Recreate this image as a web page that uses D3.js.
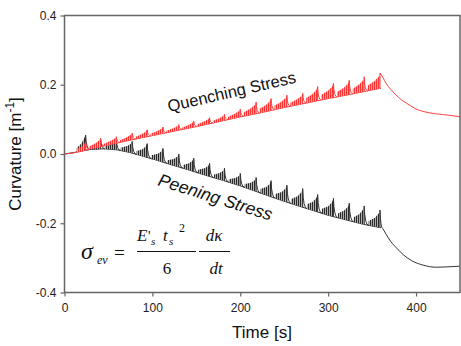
<!DOCTYPE html>
<html><head><meta charset="utf-8">
<script src="https://cdn.jsdelivr.net/npm/d3@7"></script>
<style>body{margin:0;background:#fff}svg{display:block}</style>
</head><body>
<svg id="c" width="461" height="346"></svg>
<script>
// ---------- data ----------
const xTicks = [0, 100, 200, 300, 400];
const yTicks = [-0.4, -0.2, 0.0, 0.2, 0.4];
const yTickLabels = ["-0.4", "-0.2", "0.0", "0.2", "0.4"];

// times of the cycle peaks (s)
const peakTimes = [24, 41, 59, 77, 94, 112, 130, 147, 165, 182, 200, 218, 235, 253, 271, 288, 306, 324, 341, 359];

// Peening (black): lower envelope, peak values, tail after 360 s
const blackBaseT = [0, 10, 20, 30, 45, 60, 75, 90, 105, 120, 140, 160, 180, 200, 220, 240, 260, 280, 300, 320, 340, 360];
const blackBaseV = [0, 0.004, 0.009, 0.013, 0.015, 0.012, 0.004, -0.007, -0.018, -0.03, -0.045, -0.061, -0.076, -0.092, -0.11, -0.128, -0.145, -0.161, -0.177, -0.19, -0.203, -0.213];
const blackPeaks = [0.055, 0.045, 0.04, 0.036, 0.03, 0.016, 0.0, -0.012, -0.027, -0.041, -0.056, -0.068, -0.077, -0.09, -0.1, -0.117, -0.128, -0.142, -0.15, -0.162];
const blackTailT = [362, 366, 371, 378, 386, 395, 408, 423, 435, 450];
const blackTailV = [-0.215, -0.232, -0.252, -0.272, -0.292, -0.308, -0.321, -0.327, -0.326, -0.324];

// Quenching (red)
const redBaseT = [0, 10, 20, 30, 50, 75, 100, 125, 150, 175, 200, 225, 250, 275, 300, 325, 350, 360];
const redBaseV = [0, 0.003, 0.008, 0.015, 0.026, 0.04, 0.053, 0.066, 0.079, 0.093, 0.107, 0.12, 0.134, 0.147, 0.16, 0.172, 0.185, 0.19];
const redPeaks = [0.035, 0.045, 0.05, 0.06, 0.07, 0.078, 0.085, 0.095, 0.105, 0.115, 0.13, 0.15, 0.16, 0.17, 0.175, 0.195, 0.205, 0.213, 0.223, 0.234];
const redTailT = [359, 362, 366, 371, 377, 383, 389, 400, 415, 430, 450];
const redTailV = [0.234, 0.222, 0.204, 0.187, 0.171, 0.157, 0.147, 0.13, 0.119, 0.114, 0.108];

// ---------- drawing ----------
const svg = d3.select("#c");
const L = 64.5, R = 460, T = 15.5, B = 292.5;
const x = d3.scaleLinear().domain([0, 450]).range([L, R]);
const y = d3.scaleLinear().domain([-0.4, 0.4]).range([B, T]);

const defs = svg.append("defs");
defs.append("clipPath").attr("id", "clip").append("rect")
  .attr("x", L).attr("y", T).attr("width", R - L).attr("height", B - T);
function pattern(id, bg, color, w) {
  const p = defs.append("pattern").attr("id", id).attr("patternUnits", "userSpaceOnUse")
    .attr("width", w).attr("height", 6);
  p.append("rect").attr("x", 0).attr("y", 0).attr("width", w).attr("height", 6).attr("fill", bg);
  p.append("rect").attr("x", 0).attr("y", 0).attr("width", 1).attr("height", 6).attr("fill", color);
}
pattern("hatchK", "#b0b0b0", "#2a2a2a", 2);
pattern("hatchR", "#ffa0a0", "#ff3535", 2);

const line = d3.line().x(d => x(d[0])).y(d => y(d[1]));
const smooth = d3.line().x(d => x(d[0])).y(d => y(d[1])).curve(d3.curveMonotoneX);

function drawSeries(baseT, baseV, peaks, tailT, tailV, color, patId, decay, tailFromPeak, shape) {
  const base = d3.scaleLinear().domain(baseT).range(baseV);
  const g = svg.append("g").attr("clip-path", "url(#clip)");
  // lower envelope
  g.append("path").datum(baseT.map((t, i) => [t, baseV[i]])).attr("d", line)
    .attr("fill", "none").attr("stroke", color).attr("stroke-width", 1);
  peakTimes.forEach((tp, i) => {
    const s = i === 0 ? tp - 10 : peakTimes[i - 1] + decay;
    const bs = base(s), be = base(tp), h = peaks[i] - be;
    const tm = s + 0.55 * (tp - s);
    const poly = [[s, bs], [tp, be], [tp, peaks[i]], [tp - 1.5, be + shape[2] * h],
      [tm, base(tm) + shape[1] * h], [s, bs + shape[0] * h]];
    g.append("path").attr("d", line(poly) + "Z").attr("fill", `url(#${patId})`);
    g.append("path").attr("d", line([[tp, be], [tp, peaks[i]]]))
      .attr("stroke", color).attr("stroke-width", 1);
    const last = i === peakTimes.length - 1;
    if (!last || !tailFromPeak) {
      const te = last ? tailT[0] : tp + decay;
      const ve = last ? tailV[0] : base(te);
      const p = d3.path();
      p.moveTo(x(tp), y(peaks[i]));
      p.quadraticCurveTo(x(tp + decay * 0.15), y(ve), x(te), y(ve));
      g.append("path").attr("d", p.toString()).attr("fill", "none")
        .attr("stroke", color).attr("stroke-width", 1);
    }
  });
  g.append("path").datum(tailT.map((t, i) => [t, tailV[i]])).attr("d", smooth)
    .attr("fill", "none").attr("stroke", color).attr("stroke-width", 1);
}

drawSeries(blackBaseT, blackBaseV, blackPeaks, blackTailT, blackTailV, "#333", "hatchK", 5, false, [0.25, 0.5, 0.8]);
drawSeries(redBaseT, redBaseV, redPeaks, redTailT, redTailV, "#ff4040", "hatchR", 4, true, [0.35, 0.55, 0.75]);

// ---------- axes ----------
const axCol = "#666";
const sans = "'Liberation Sans', Arial, sans-serif";
const xAxis = svg.append("g").attr("transform", `translate(0,${B})`)
  .call(d3.axisBottom(x).tickValues(xTicks).tickSize(4).tickPadding(7).tickFormat(d3.format("d")));
const yAxis = svg.append("g").attr("transform", `translate(${L},0)`)
  .call(d3.axisLeft(y).tickValues(yTicks).tickSize(4).tickPadding(4)
    .tickFormat((d, i) => yTickLabels[i]));
[xAxis, yAxis].forEach(a => {
  a.select(".domain").remove();
  a.selectAll(".tick line").attr("stroke", axCol).attr("stroke-width", 1.2);
  a.selectAll(".tick text").attr("fill", "#222").style("font-family", sans).style("font-size", "12px");
});
// frame
svg.append("rect").attr("x", L).attr("y", T).attr("width", R - L).attr("height", B - T)
  .attr("fill", "none").attr("stroke", axCol).attr("stroke-width", 1.5);

// titles
svg.append("text").attr("x", 262).attr("y", 338).attr("text-anchor", "middle")
  .style("font-family", sans).style("font-size", "17px").attr("fill", "#111").text("Time [s]");
const yl = svg.append("text").attr("transform", "translate(21,154) rotate(-90)")
  .attr("text-anchor", "middle").style("font-family", sans).style("font-size", "17px").attr("fill", "#111");
yl.append("tspan").text("Curvature [m");
yl.append("tspan").attr("dy", -7).style("font-size", "12px").text("-1");
yl.append("tspan").attr("dy", 7).text("]");

// annotations
svg.append("text").attr("transform", "translate(169,112) rotate(-13)")
  .style("font-family", sans).style("font-size", "16.5px").attr("fill", "#111").text("Quenching Stress");
svg.append("text").attr("transform", "translate(157,185) rotate(17.5)")
  .style("font-family", sans).style("font-size", "17.5px").style("font-style", "italic").attr("fill", "#111").text("Peening Stress");

// formula
const serif = "'Liberation Serif', 'Times New Roman', serif";
const f = svg.append("g").style("font-family", serif).attr("fill", "#111");
function ft(xp, yp, txt, size, italic, anchor) {
  f.append("text").attr("x", xp).attr("y", yp).text(txt)
    .style("font-size", size + "px").style("font-style", italic ? "italic" : "normal")
    .attr("text-anchor", anchor || "start");
}
ft(81, 259, "σ", 24, true);
ft(97, 264, "ev", 12, true);
ft(114, 259, "=", 19, false);
ft(137, 241, "E", 17, true);
ft(148, 241, "'", 14, false);
ft(151, 245, "s", 11, true);
ft(163, 241, "t", 17, true);
ft(169, 245, "s", 11, true);
ft(179, 232, "2", 12, false);
ft(167, 274, "6", 17, false, "middle");
ft(214, 241, "dκ", 17, true, "middle");
ft(216, 274, "dt", 17, true, "middle");
f.append("line").attr("x1", 137).attr("x2", 196).attr("y1", 251.5).attr("y2", 251.5).attr("stroke", "#111").attr("stroke-width", 1);
f.append("line").attr("x1", 199).attr("x2", 230).attr("y1", 251.5).attr("y2", 251.5).attr("stroke", "#111").attr("stroke-width", 1);
</script>
</body></html>
